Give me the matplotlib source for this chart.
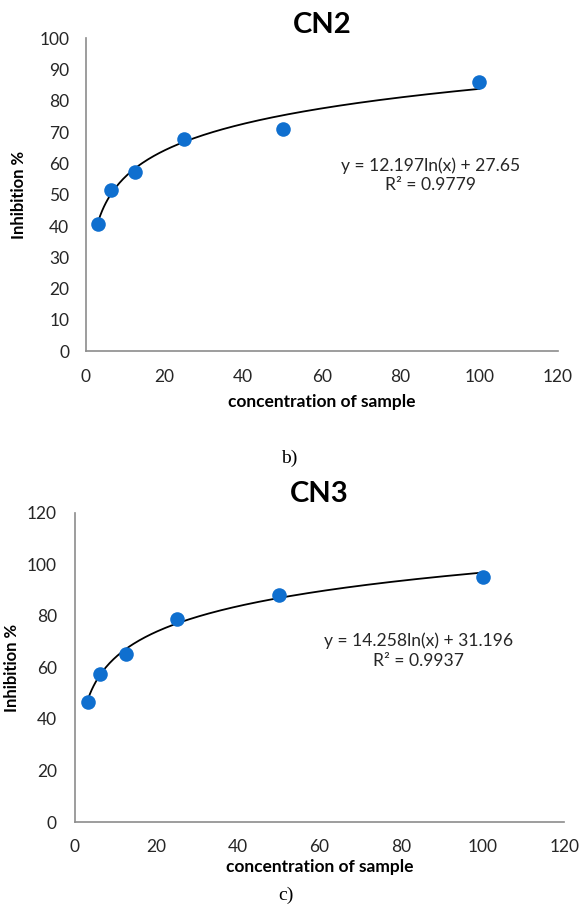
import numpy as np
import matplotlib

matplotlib.use("Agg")
import matplotlib.pyplot as plt

# concentration of sample (same series for both panels)
conc = [3.125, 6.25, 12.5, 25, 50, 100]
cn2_inhib = [40.5, 51.6, 57.3, 67.7, 71.0, 85.9]
cn3_inhib = [46.7, 57.5, 65.1, 78.9, 88.2, 95.1]

# logarithmic trendlines as printed on the chart
cn2_fit = (12.197, 27.65, 0.9779)
cn3_fit = (14.258, 31.196, 0.9937)

x_ticks = [0, 20, 40, 60, 80, 100, 120]
cn2_yticks = list(range(0, 101, 10))
cn3_yticks = list(range(0, 121, 20))

plt.rcParams["font.family"] = ["Lato", "DejaVu Sans"]

BLUE = "#0f6fcf"
GREY = "#8c8c8c"
TXT = "#262626"


def panel(ax, x, y, fit, yticks, title, tpad, xpad, ypad, xlab_pad, ylab_x, eq_xy):
    a, b, r2 = fit
    xs = np.linspace(min(x), max(x), 200)
    ax.plot(xs, a * np.log(xs) + b, color="black", lw=1.3, zorder=2)
    ax.scatter(x, y, s=110, color=BLUE, zorder=3, linewidths=0)
    ax.set_xlim(0, 120)
    ax.set_ylim(yticks[0], yticks[-1])
    ax.set_xticks(x_ticks)
    ax.set_yticks(yticks)
    for s in ("top", "right"):
        ax.spines[s].set_visible(False)
    for s in ("left", "bottom"):
        ax.spines[s].set_color(GREY)
        ax.spines[s].set_linewidth(1.2)
    ax.tick_params(length=0, labelsize=12.5, labelcolor=TXT)
    ax.tick_params(axis="x", pad=xpad)
    ax.tick_params(axis="y", pad=ypad)
    ax.set_title(title, fontsize=21, fontweight="bold", pad=tpad)
    ax.set_ylabel("Inhibition %", fontsize=12, fontweight="bold")
    ax.yaxis.set_label_coords(ylab_x, 0.5)
    ax.set_xlabel("concentration of sample", fontsize=12.5, fontweight="bold",
                  labelpad=xlab_pad)
    ax.text(eq_xy[0], eq_xy[1], f"y = {a}ln(x) + {b}\nR² = {r2}",
            ha="center", va="center", fontsize=12.6, color=TXT, linespacing=1.25)


fig = plt.figure(figsize=(5.79, 9.10), dpi=100)
ax1 = fig.add_axes([0.1485, 0.614, 0.815, 0.344])
ax2 = fig.add_axes([0.1295, 0.0967, 0.845, 0.3396])

panel(ax1, conc, cn2_inhib, cn2_fit, cn2_yticks, "CN2", 0, 13, 12, 6, -0.125, (87.5, 56.3))
panel(ax2, conc, cn3_inhib, cn3_fit, cn3_yticks, "CN3", 8, 12, 13, 3, -0.1125, (84.3, 66.5))

fig.text(289 / 579, 1 - 458 / 910, "b)", ha="center", va="center",
         fontsize=14, family="Liberation Serif")
fig.text(286 / 579, 1 - 895 / 910, "c)", ha="center", va="center",
         fontsize=14, family="Liberation Serif")

fig.savefig("out.png", dpi=100)
